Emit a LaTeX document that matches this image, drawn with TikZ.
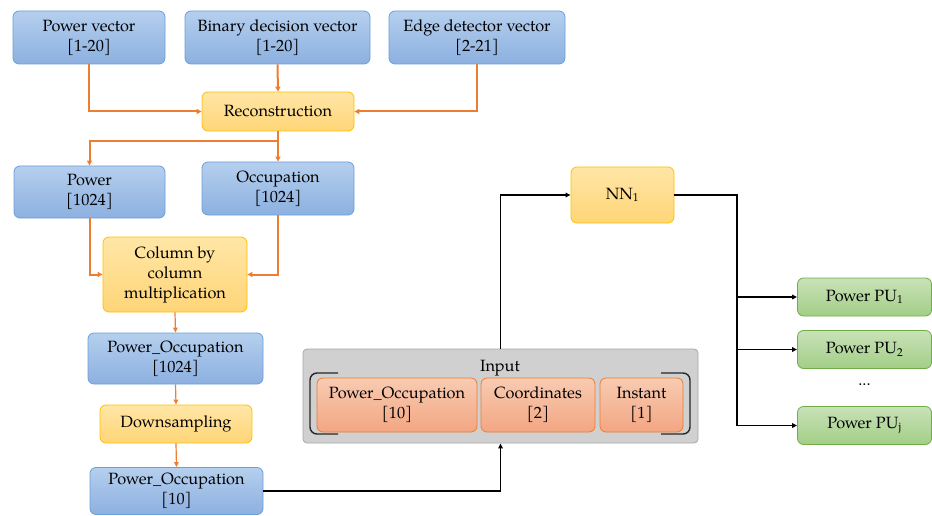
\documentclass[tikz,border=0pt]{standalone}
\usepackage{fontspec}
\setmainfont{TeX Gyre Pagella}
\usetikzlibrary{arrows.meta}
\definecolor{blueT}{HTML}{B5CFEE}
\definecolor{blueB}{HTML}{8CB0E0}
\definecolor{blueD}{HTML}{6A9FD8}
\definecolor{yelT}{HTML}{FFE6A6}
\definecolor{yelB}{HTML}{FFD577}
\definecolor{yelD}{HTML}{FFC000}
\definecolor{orT}{HTML}{F8CBB2}
\definecolor{orB}{HTML}{F3A682}
\definecolor{orD}{HTML}{ED7D31}
\definecolor{grT}{HTML}{C9E2B8}
\definecolor{grB}{HTML}{A2CE86}
\definecolor{grD}{HTML}{70AD47}
\definecolor{grayF}{HTML}{D0D0D0}
\definecolor{grayD}{HTML}{A6A6A6}
\tikzset{
  txt/.style={font=\fontsize{16.3}{20}\selectfont},
  box/.style={rounded corners=6pt, align=center, inner sep=0pt, line width=0.8pt, txt},
  bluebox/.style={box, draw=blueD, top color=blueT, bottom color=blueB},
  yelbox/.style={box, draw=yelD, top color=yelT, bottom color=yelB},
  orbox/.style={box, draw=orD, top color=orT, bottom color=orB},
  grbox/.style={box, draw=grD, top color=grT, bottom color=grB},
  oarrow/.style={draw=orD, line width=2pt, -{Triangle[length=5pt,width=5pt]}},
  othin/.style={draw=orD, line width=1.2pt, -{Triangle[length=5pt,width=4.5pt]}},
  karrow/.style={draw=black, line width=1.3pt, -{Triangle[length=5pt,width=4.5pt]}},
  kline/.style={draw=black, line width=1.8pt},
  brk/.style={draw=black!85, line width=1.4pt, rounded corners=7pt},
}
\begin{document}
\begin{tikzpicture}[x=1pt,y=-1pt]
\useasboundingbox (0,0) rectangle (932,516);
% top row
\node[bluebox, minimum width=152pt, minimum height=53pt] (pv) at (89,37.5) {Power vector\\{}[1-20]};
\node[bluebox, minimum width=185pt, minimum height=53pt] (bd) at (277.5,37.5) {Binary decision vector\\{}[1-20]};
\node[bluebox, minimum width=176pt, minimum height=53pt] (ed) at (477,37.5) {Edge detector vector\\{}[2-21]};
\node[yelbox, minimum width=152pt, minimum height=39pt] (rec) at (278,111.5) {Reconstruction};
\node[bluebox, minimum width=151pt, minimum height=52pt] (pow) at (89.5,192) {Power\\{}[1024]};
\node[bluebox, minimum width=152pt, minimum height=53pt] (occ) at (278,188.5) {Occupation\\{}[1024]};
\node[yelbox, minimum width=144pt, minimum height=75pt] (col) at (175,274.5) {Column by\\column\\multiplication};
\node[bluebox, minimum width=175pt, minimum height=51pt] (po1) at (175.5,358.5) {Power\_Occupation\\{}[1024]};
\node[yelbox, minimum width=152pt, minimum height=38pt] (down) at (176,424) {Downsampling};
\node[bluebox, minimum width=173pt, minimum height=47pt] (po2) at (176.5,491) {Power\_Occupation\\{}[10]};
% input group
\node[draw=grayD, fill=grayF, rounded corners=4pt, line width=0.8pt, minimum width=395pt, minimum height=94pt, inner sep=0pt] (inp) at (500.5,396) {};
\node[txt, inner sep=0pt] (inlab) at (500,368) {Input};
\node[orbox, minimum width=160pt, minimum height=54pt] (ipo) at (397,405) {Power\_Occupation\\{}[10]};
\node[orbox, minimum width=114pt, minimum height=54pt] (icoord) at (538,405) {Coordinates\\{}[2]};
\node[orbox, minimum width=83pt, minimum height=54pt] (iinst) at (641.5,405) {Instant\\{}[1]};
\draw[brk] (338,373) -- (310,373) -- (310,434) -- (338,434);
\draw[brk] (661,373) -- (690,373) -- (690,434) -- (661,434);
% NN and outputs
\node[yelbox, minimum width=103pt, minimum height=56pt] (nn) at (622.5,195) {NN\textsubscript{1}};
\node[grbox, minimum width=134pt, minimum height=38pt] (pu1) at (864.5,297) {Power PU\textsubscript{1}};
\node[grbox, minimum width=134pt, minimum height=38pt] (pu2) at (864.5,349.5) {Power PU\textsubscript{2}};
\node[txt, inner sep=0pt] (dots) at (864.5,385) {...};
\node[grbox, minimum width=134pt, minimum height=38pt] (puj) at (864.5,425.5) {Power PU\textsubscript{j}};
% connectors
\draw[oarrow] (pv.south) |- (rec.west);
\draw[oarrow] (bd.south) -- (rec.north);
\draw[oarrow] (ed.south) |- (rec.east);
\draw[oarrow] (rec.south) -- (occ.north);
\draw[oarrow] (rec.south) -- ++(0,10) -| (pow.north);
\draw[oarrow] (pow.south) |- (col.west);
\draw[oarrow] (occ.south) |- (col.east);
\draw[othin] (col.south) -- (po1.north);
\draw[othin] (po1.south) -- (down.north);
\draw[othin] (down.south) -- (po2.north);
\draw[karrow] (po2.east) -| (inp.south);
\draw[karrow] (inp.north) |- (nn.west);
\coordinate (bus) at (737,0);
\draw[kline] (nn.east) -| (bus |- pu1.west);
\draw[karrow] (bus |- pu1.west) -- (pu1.west);
\draw[karrow] (bus |- pu1.west) -- (bus |- puj.west) -- (puj.west);
\draw[karrow] (bus |- pu2.west) -- (pu2.west);
\end{tikzpicture}
\end{document}
